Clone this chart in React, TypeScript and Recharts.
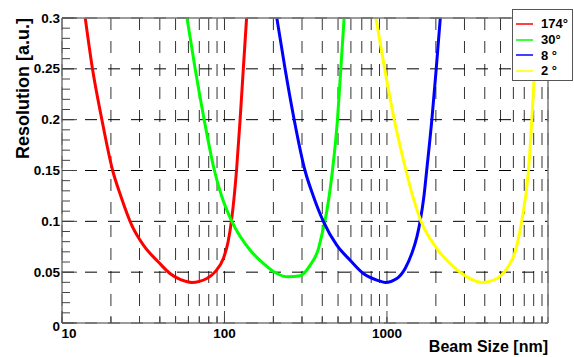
import React from 'react';
import {
  LineChart,
  Line,
  XAxis,
  YAxis,
  CartesianGrid,
  Legend,
  Label,
} from 'recharts';

// beam size [nm] and resolution [a.u.], per polar angle
const size174 = [13.9, 15.4, 17.6, 20.5, 23, 26.9, 31.7, 39.2, 46.2, 53.3, 63, 77.8, 87.5, 98.4, 105.2, 110.3, 118.6, 124.8, 130.6, 136.8];
const res174 = [0.3, 0.25, 0.2, 0.15, 0.125, 0.096, 0.0765, 0.06, 0.0487, 0.0428, 0.0399, 0.0438, 0.0503, 0.0634, 0.0797, 0.1, 0.15, 0.2, 0.25, 0.3];

const size30 = [58.8, 66, 75, 86.7, 96, 111, 144, 174, 210, 247, 292, 337, 379, 401, 415, 462, 496, 520, 545];
const res30 = [0.3, 0.25, 0.2, 0.15, 0.125, 0.1, 0.0716, 0.0585, 0.0487, 0.0454, 0.0464, 0.0569, 0.0732, 0.0895, 0.1, 0.15, 0.2, 0.25, 0.3];

const size8 = [210, 236, 268.5, 313, 352, 406, 491, 593, 716, 866, 975, 1151, 1294, 1419, 1530, 1601, 1690, 1756, 1890, 2010, 2130];
const res8 = [0.3, 0.25, 0.2, 0.15, 0.125, 0.1, 0.0765, 0.0618, 0.0487, 0.0422, 0.0399, 0.0438, 0.0536, 0.068, 0.085, 0.1, 0.125, 0.15, 0.2, 0.25, 0.3];

const size2 = [855, 968, 1109, 1310, 1439, 1622, 2030, 2570, 3106, 3840, 4750, 5470, 6150, 6750, 7430, 7800, 8110, 8360];
const res2 = [0.3, 0.25, 0.2, 0.15, 0.125, 0.1, 0.0732, 0.0552, 0.0454, 0.0399, 0.0438, 0.0536, 0.0699, 0.1, 0.15, 0.2, 0.25, 0.3];

const xTicks = [
  10, 20, 30, 40, 50, 60, 70, 80, 90,
  100, 200, 300, 400, 500, 600, 700, 800, 900,
  1000, 2000, 3000, 4000, 5000, 6000, 7000, 8000, 9000,
];
const xLabels = [10, 100, 1000];

const yTicks = [
  0, 0.01, 0.02, 0.03, 0.04, 0.05, 0.06, 0.07, 0.08, 0.09,
  0.1, 0.11, 0.12, 0.13, 0.14, 0.15, 0.16, 0.17, 0.18, 0.19,
  0.2, 0.21, 0.22, 0.23, 0.24, 0.25, 0.26, 0.27, 0.28, 0.29, 0.3,
];
const yLabels = [0, 0.05, 0.1, 0.15, 0.2, 0.25, 0.3];

const zip = (xs: number[], ys: number[]) => xs.map((x, i) => ({ x, y: ys[i] }));

const series = [
  { name: '174°', color: '#ff0000', data: zip(size174, res174) },
  { name: '30°', color: '#00ff00', data: zip(size30, res30) },
  { name: '8 °', color: '#0000ff', data: zip(size8, res8) },
  { name: '2 °', color: '#ffff00', data: zip(size2, res2) },
];

const frame = '#7a7a7a';

function XTick(props: any) {
  const { x, y, payload } = props;
  const v = payload.value;
  const major = xLabels.includes(v);
  return (
    <g>
      <line x1={x} y1={y} x2={x} y2={y - (major ? 12 : 7)} stroke="#444" />
      {major && (
        <text x={v === 10 ? x + 7 : x} y={y + 15} textAnchor="middle" fontSize={13.5} fontWeight="bold" fill="#000">
          {v}
        </text>
      )}
    </g>
  );
}

function YTick(props: any) {
  const { x, y, payload } = props;
  const v = payload.value;
  const major = yLabels.includes(v);
  return (
    <g>
      <line x1={x} y1={y} x2={x + (major ? 15 : 8)} y2={y} stroke="#444" />
      {major && (
        <text x={x - 2} y={y + (v === 0 ? 8 : 4.5)} textAnchor="end" fontSize={13.5} fontWeight="bold" fill="#000">
          {v}
        </text>
      )}
    </g>
  );
}

function LegendBox(props: any) {
  const names = (props.payload || []).map((it: any) => it.value);
  const items = series.filter((s) => names.includes(s.name));
  return (
    <div
      style={{
        background: '#fff',
        border: '1px solid #555',
        width: 61,
        height: 72,
        paddingTop: 6,
        boxSizing: 'border-box',
      }}
    >
      {items.map((s) => (
        <div key={s.name} style={{ display: 'flex', alignItems: 'center', height: 15.7 }}>
          <svg width={28} height={6} style={{ display: 'block' }}>
            <line x1={3} y1={3} x2={20} y2={3} stroke={s.color} strokeWidth={1.5} />
          </svg>
          <span style={{ fontSize: 13, fontWeight: 'bold', color: '#000' }}>{s.name}</span>
        </div>
      ))}
    </div>
  );
}

export default function App() {
  return (
    <div
      style={{
        position: 'absolute',
        left: 0,
        top: 0,
        width: 574,
        height: 357,
        background: '#fff',
        fontFamily: '"Liberation Sans", Arial, sans-serif',
      }}
    >
      <LineChart width={574} height={357} margin={{ top: 17, right: 25, bottom: 0, left: 0 }}>
        <CartesianGrid xAxisId="x" yAxisId="l" vertical horizontal={false} stroke="#333" strokeDasharray="12 11" />
        <CartesianGrid
          xAxisId="x"
          yAxisId="l"
          vertical={false}
          horizontal
          horizontalValues={yLabels}
          stroke="#000"
          strokeDasharray="12 11"
        />
        <XAxis
          xAxisId="x"
          dataKey="x"
          type="number"
          scale="log"
          domain={[10, 9800]}
          allowDataOverflow
          ticks={xTicks}
          interval={0}
          height={34}
          tickSize={0}
          tickMargin={0}
          tickLine={false}
          tick={XTick}
          axisLine={{ stroke: frame, strokeWidth: 1.5 }}
        >
          <Label
            content={(p: any) => (
              <text
                x={p.viewBox.x + p.viewBox.width}
                y={p.viewBox.y + 29}
                textAnchor="end"
                fontSize={16}
                fontWeight="bold"
                fill="#000"
              >
                Beam Size [nm]
              </text>
            )}
          />
        </XAxis>
        <XAxis
          xAxisId="t"
          orientation="top"
          type="number"
          scale="log"
          domain={[10, 9800]}
          height={1}
          tick={false}
          tickLine={false}
          axisLine={{ stroke: frame, strokeWidth: 1.5 }}
        />
        <YAxis
          yAxisId="l"
          type="number"
          domain={[0, 0.3]}
          allowDataOverflow
          ticks={yTicks}
          interval={0}
          width={62}
          tickSize={0}
          tickMargin={0}
          tickLine={false}
          tick={YTick}
          axisLine={{ stroke: frame, strokeWidth: 1.5 }}
        >
          <Label
            content={(p: any) => (
              <text
                x={p.viewBox.x + 29}
                y={p.viewBox.y}
                transform={`rotate(-90, ${p.viewBox.x + 29}, ${p.viewBox.y})`}
                textAnchor="end"
                fontSize={18}
                fontWeight="bold"
                fill="#000"
              >
                Resolution [a.u.]
              </text>
            )}
          />
        </YAxis>
        <YAxis
          yAxisId="r"
          orientation="right"
          type="number"
          domain={[0, 0.3]}
          width={1}
          tick={false}
          tickLine={false}
          axisLine={{ stroke: frame, strokeWidth: 1.5 }}
        />
        {series.map((s) => (
          <Line
            key={s.name}
            xAxisId="x"
            yAxisId="l"
            data={s.data}
            dataKey="y"
            name={s.name}
            type="monotone"
            stroke={s.color}
            strokeWidth={3}
            dot={false}
            isAnimationActive={false}
          />
        ))}
        <Legend
          layout="vertical"
          align="center"
          verticalAlign="middle"
          content={LegendBox}
          wrapperStyle={{ left: 512, top: 9, width: 62, height: 72 }}
        />
      </LineChart>
    </div>
  );
}
